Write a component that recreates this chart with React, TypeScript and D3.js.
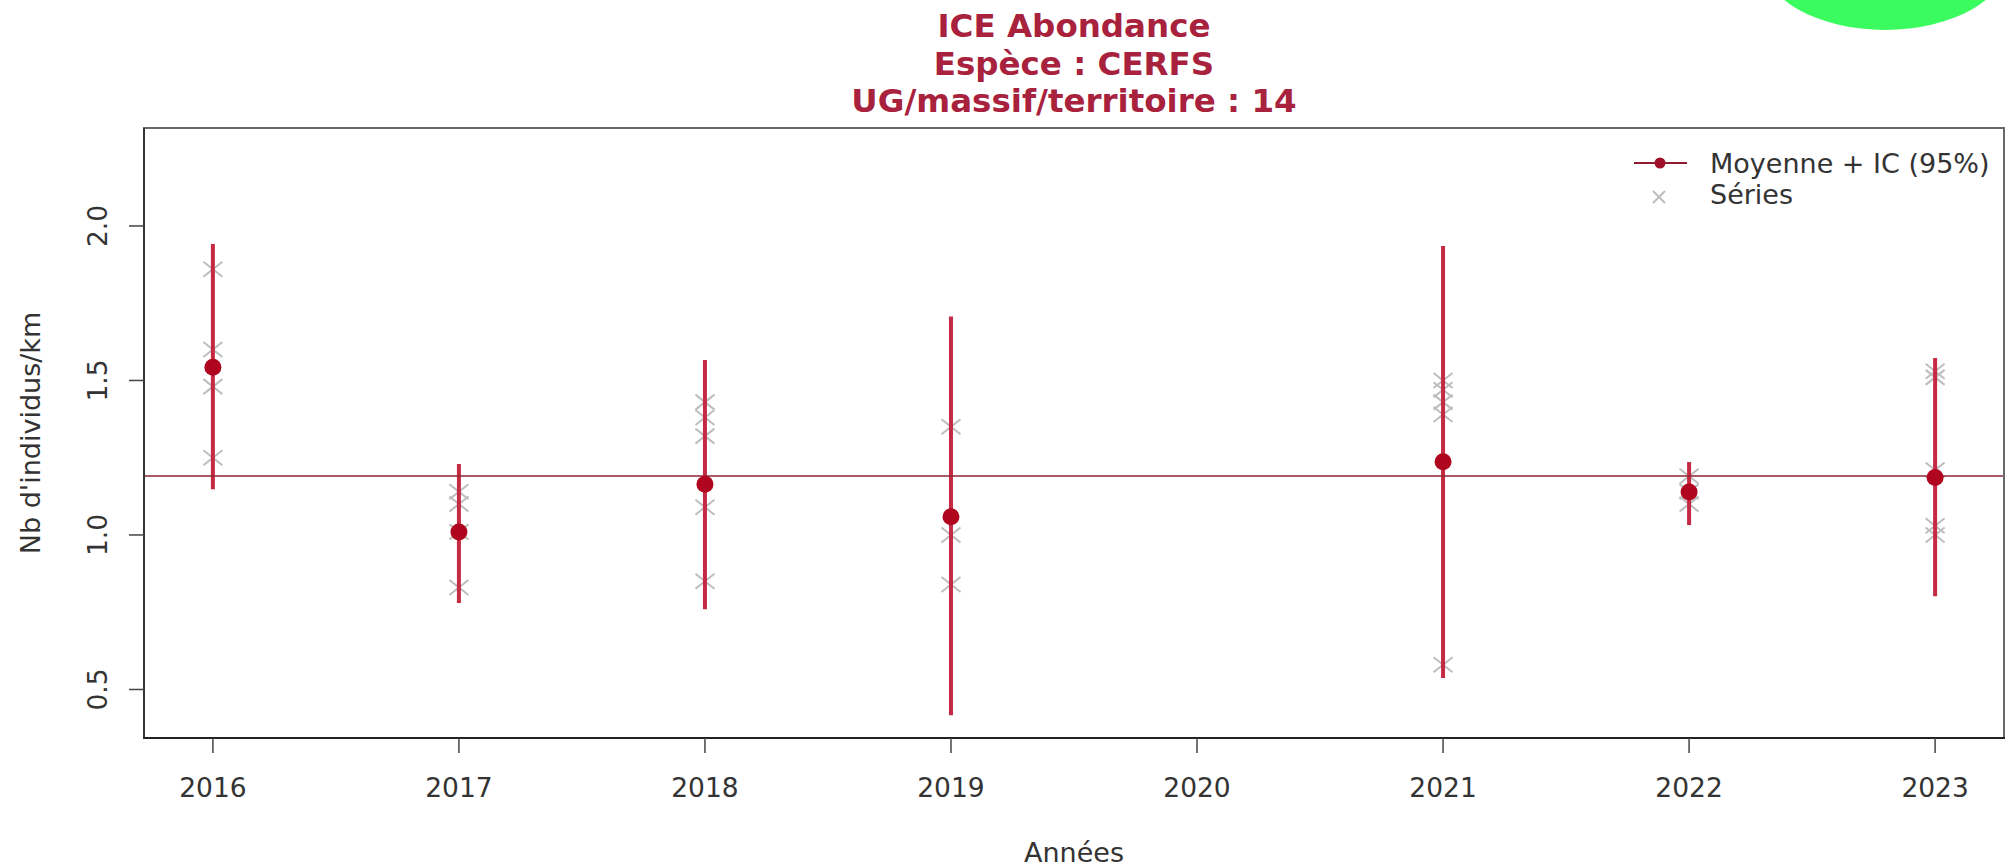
import React from "react";
import * as d3 from "d3";

const years = [2016, 2017, 2018, 2019, 2021, 2022, 2023];
const means = [1.543, 1.01, 1.164, 1.059, 1.237, 1.139, 1.186];
const ciLow = [1.148, 0.78, 0.76, 0.417, 0.537, 1.032, 0.802];
const ciHigh = [1.942, 1.23, 1.566, 1.707, 1.935, 1.236, 1.573];
const seriesValues: number[][] = [
  [1.86, 1.6, 1.48, 1.25],
  [1.14, 1.1, 1.01, 0.83],
  [1.43, 1.38, 1.32, 1.09, 0.85],
  [1.35, 1.0, 0.84],
  [1.5, 1.47, 1.43, 1.39, 0.58],
  [1.19, 1.14, 1.1],
  [1.53, 1.51, 1.21, 1.03, 1.0],
];
const overallMean = 1.191;
const xTicks = [2016, 2017, 2018, 2019, 2020, 2021, 2022, 2023];
const yTicks = [0.5, 1.0, 1.5, 2.0];
const titleLines = ["ICE Abondance", "Espèce : CERFS", "UG/massif/territoire : 14"];
const legendLabels = ["Moyenne + IC (95%)", "Séries"];

const W = 2013;
const H = 867;
const L = 144, R = 2004, T = 128, B = 738;

export default function App() {
  const x = d3.scaleLinear().domain([2015.72, 2023.28]).range([L, R]);
  const y = d3.scaleLinear().domain([0.343, 2.317]).range([B, T]);
  const font = "'DejaVu Sans', sans-serif";
  const titleColor = "#a8213d";
  const ciColor = "#c62a42";
  const dotColor = "#b0051f";
  const crossColor = "#bdbdbd";
  const textColor = "#333";
  const cross = (cx: number, cy: number, dx: number, dy: number, key: string) => (
    <g key={key} stroke={crossColor} strokeWidth={2}>
      <line x1={cx - dx} y1={cy - dy} x2={cx + dx} y2={cy + dy} />
      <line x1={cx - dx} y1={cy + dy} x2={cx + dx} y2={cy - dy} />
    </g>
  );
  return (
    <svg width={W} height={H} style={{ position: "absolute", left: 0, top: 0, background: "#fff" }}>
      <rect x={0} y={0} width={W} height={H} fill="#fff" />
      <ellipse cx={1885} cy={-42} rx={124} ry={72} fill="#3bfc5e" />
      {titleLines.map((t, i) => (
        <text key={t} x={(L + R) / 2} y={37 + i * 37.5} textAnchor="middle" fontFamily={font}
          fontWeight="bold" fontSize={32.5} fill={titleColor}>{t}</text>
      ))}
      {years.map((yr, i) =>
        seriesValues[i].map((v, j) => cross(x(yr), y(v), 9.5, 7.5, `c${i}-${j}`))
      )}
      {years.map((yr, i) => (
        <line key={`ci${i}`} x1={x(yr)} x2={x(yr)} y1={y(ciLow[i])} y2={y(ciHigh[i])}
          stroke={ciColor} strokeWidth={4} />
      ))}
      <line x1={L} x2={R} y1={y(overallMean)} y2={y(overallMean)} stroke="#8e2436" strokeWidth={1.6} />
      {years.map((yr, i) => (
        <circle key={`m${i}`} cx={x(yr)} cy={y(means[i])} r={8.5} fill={dotColor} />
      ))}
      <rect x={L} y={T} width={R - L} height={B - T} fill="none" stroke="#6a6a6a" strokeWidth={2} />
      <line x1={L - 1} x2={R + 1} y1={B} y2={B} stroke="#222" strokeWidth={2} />
      <line x1={L} x2={L} y1={T} y2={B} stroke="#333" strokeWidth={2} />
      {xTicks.map((t) => (
        <g key={`xt${t}`}>
          <line x1={x(t)} x2={x(t)} y1={B} y2={B + 15} stroke="#444" strokeWidth={1.5} />
          <text x={x(t)} y={797} textAnchor="middle" fontFamily={font} fontSize={26.5} fill={textColor}>{t}</text>
        </g>
      ))}
      {yTicks.map((t) => (
        <g key={`yt${t}`}>
          <line x1={L - 15} x2={L} y1={y(t)} y2={y(t)} stroke="#444" strokeWidth={1.5} />
          <text transform={`translate(107,${y(t)}) rotate(-90)`} textAnchor="middle" fontFamily={font}
            fontSize={26.5} fill={textColor}>{t.toFixed(1)}</text>
        </g>
      ))}
      <text x={(L + R) / 2} y={862} textAnchor="middle" fontFamily={font} fontSize={27} fill={textColor}>Années</text>
      <text transform={`translate(40,${(T + B) / 2}) rotate(-90)`} textAnchor="middle" fontFamily={font}
        fontSize={27} fill={textColor}>Nb d'individus/km</text>
      <line x1={1634} x2={1687} y1={163} y2={163} stroke="#8e1a30" strokeWidth={2} />
      <circle cx={1660} cy={163} r={5.5} fill="#a0102a" />
      {cross(1659, 197, 6, 6, "leg")}
      <text x={1710} y={173} fontFamily={font} fontSize={27} fill={textColor}>{legendLabels[0]}</text>
      <text x={1710} y={204} fontFamily={font} fontSize={27} fill={textColor}>{legendLabels[1]}</text>
    </svg>
  );
}
